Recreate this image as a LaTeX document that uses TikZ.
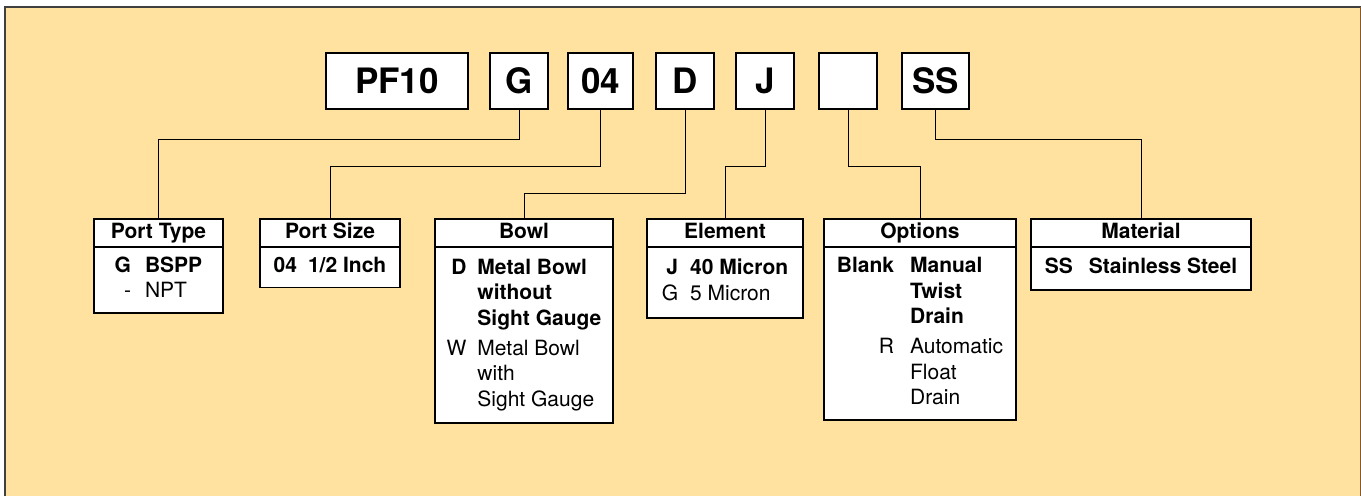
\documentclass[tikz,border=0pt]{standalone}
\usepackage{fontspec}
\setmainfont{TeX Gyre Heros}
\usetikzlibrary{positioning}
\definecolor{sand}{RGB}{255,225,160}
\tikzstyle{code} = [rectangle, draw=black, line width=1.6pt, fill=white, outer sep=0pt,
minimum height=56pt, font=\fontsize{35}{40}\selectfont\bfseries]
\tikzstyle{head} = [rectangle, draw=black, line width=1.6pt, fill=white, outer sep=0pt,
minimum height=28pt, inner sep=0pt, text height=15pt, text depth=4.5pt,
font=\fontsize{21}{24}\selectfont\bfseries]
\tikzstyle{body} = [rectangle, draw=black, line width=1.6pt, fill=white, outer sep=0pt,
inner xsep=0pt, inner ysep=7.5pt, align=left, font=\fontsize{21}{25.5}\selectfont]
\tikzstyle{line} = [line width=0.9pt]

\begin{document}
\begin{tikzpicture}[x=1pt, y=-1pt]
\useasboundingbox (0,0) rectangle (1361,496);
\fill[sand] (5,7) rectangle (1361,496);
\draw[black!75, line width=1.5pt] (5,496) -- (5,7) -- (1361,7);
\draw[brown!70!black, line width=0.8pt] (1360,7) -- (1360,496);

\node (1)[code, minimum width=142pt] at (397,81){PF10};
\node (2)[code, minimum width=58pt] at (519,81){G};
\node (3)[code, minimum width=65pt] at (600.5,81){04};
\node (4)[code, minimum width=58pt] at (685,81){D};
\node (5)[code, minimum width=58pt] at (765,81){J};
\node (6)[code, minimum width=58pt] at (848,81){};
\node (7)[code, minimum width=67pt] at (935.5,81){SS};

\node (8)[head, minimum width=129pt] at (158.5,233){Port Type};
\node (9)[head, minimum width=140pt] at (330,233){Port Size};
\node (10)[head, minimum width=178pt] at (524,233){Bowl};
\node (11)[head, minimum width=156pt] at (725,233){Element};
\node (12)[head, minimum width=192pt] at (920,233){Options};
\node (13)[head, minimum width=220pt] at (1141,233){Material};

\node (14)[body, minimum width=129pt, minimum height=66pt, below=0pt of 8]{%
\begin{tabular}{@{}r@{\hspace{14pt}}l@{}}
\textbf{G} & \textbf{BSPP}\\
- & NPT
\end{tabular}};
\node (15)[body, minimum width=140pt, minimum height=40pt, below=0pt of 9]{%
\begin{tabular}{@{}r@{\hspace{11pt}}l@{}}
\textbf{04} & \textbf{1/2 Inch}
\end{tabular}};
\node (16)[body, minimum width=178pt, minimum height=176pt, below=0pt of 10]{%
\begin{tabular}{@{}r@{\hspace{11pt}}l@{}}
\textbf{D} & \textbf{Metal Bowl}\\
 & \textbf{without}\\
 & \textbf{Sight Gauge}\\[4.5pt]
W & Metal Bowl\\
 & with\\
 & Sight Gauge
\end{tabular}};
\node (17)[body, minimum width=156pt, minimum height=71pt, below=0pt of 11]{%
\begin{tabular}{@{}r@{\hspace{12pt}}l@{}}
\textbf{J} & \textbf{40 Micron}\\
G & 5 Micron
\end{tabular}};
\node (18)[body, minimum width=192pt, minimum height=173pt, below=0pt of 12]{%
\begin{tabular}{@{}r@{\hspace{16pt}}l@{}}
\textbf{Blank} & \textbf{Manual}\\
 & \textbf{Twist}\\
 & \textbf{Drain}\\[4.5pt]
R & Automatic\\
 & Float\\
 & Drain
\end{tabular}};
\node (19)[body, minimum width=220pt, minimum height=43pt, below=0pt of 13]{%
\begin{tabular}{@{}r@{\hspace{16pt}}l@{}}
\textbf{SS} & \textbf{Stainless Steel}
\end{tabular}};

\draw [line](2.south) -- ++(0,30) -| (8.north);
\draw [line](3.south) -- ++(0,57) -| (9.north);
\draw [line](4.south) -- ++(0,84) -| (10.north);
\draw [line](5.south) -- ++(0,57) -| (11.north);
\draw [line](6.south) -- ++(0,57) -| (12.north);
\draw [line](7.south) -- ++(0,30) -| (13.north);
\end{tikzpicture}
\end{document}
